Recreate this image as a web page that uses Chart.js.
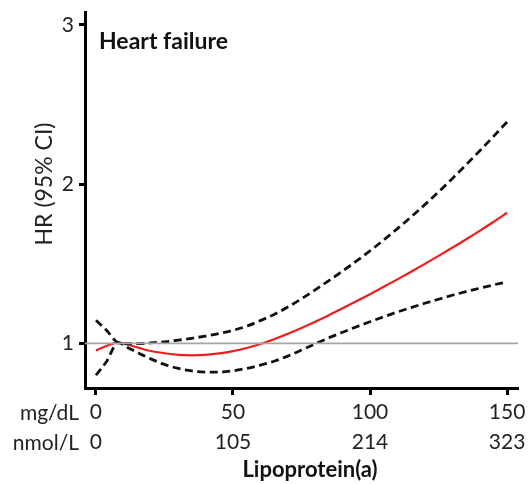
<!DOCTYPE html>
<html>
<head>
<meta charset="utf-8">
<script src="https://cdn.jsdelivr.net/npm/chart.js@4/dist/chart.umd.min.js"></script>
<style>
  html, body { margin: 0; padding: 0; background: #fff; }
  #wrap { width: 529px; height: 484px; }
</style>
</head>
<body>
<div id="wrap"><canvas id="hf-chart" width="529" height="484"></canvas></div>
<script>
// Lipoprotein(a) in mg/dL and the matching nmol/L tick labels
const mgdl = [0, 4, 8, 12, 16, 20, 25, 30, 35, 40, 45, 50, 55, 60, 65, 70, 75, 80, 85, 90, 95, 100, 105, 110, 115, 120, 125, 130, 135, 140, 145, 150];
const xTicks = [0, 50, 100, 150];
const nmolTicks = ['0', '105', '214', '323'];
const yTicks = [1, 2, 3];

// Hazard ratio spline with 95% CI bounds
const hr    = [0.956, 0.985, 1.005, 0.99, 0.97, 0.952, 0.938, 0.928, 0.925, 0.928, 0.937, 0.951, 0.971, 0.996, 1.026, 1.06, 1.097, 1.136, 1.177, 1.22, 1.264, 1.309, 1.355, 1.402, 1.45, 1.499, 1.549, 1.6, 1.652, 1.706, 1.762, 1.82];
const upper = [1.145, 1.08, 1.005, 0.998, 0.998, 1.003, 1.01, 1.02, 1.032, 1.046, 1.062, 1.082, 1.108, 1.143, 1.182, 1.228, 1.28, 1.336, 1.394, 1.454, 1.516, 1.581, 1.649, 1.72, 1.794, 1.871, 1.951, 2.034, 2.12, 2.208, 2.298, 2.39];
const lower = [0.8, 0.89, 1.005, 0.97, 0.935, 0.903, 0.868, 0.843, 0.827, 0.82, 0.82, 0.828, 0.843, 0.863, 0.888, 0.92, 0.958, 0.997, 1.035, 1.07, 1.104, 1.136, 1.167, 1.197, 1.225, 1.252, 1.277, 1.302, 1.325, 1.346, 1.367, 1.386];

// Reference line HR = 1 across the whole x range
const refX = [-4, 154];
const refY = [1, 1];

const X_MIN = -4, X_MAX = 154;
const Y_MIN = 0.72, Y_MAX = 3.08;

const FONT = 'Lato, "Open Sans", sans-serif';

function toPoints(xs, ys) {
    return xs.map((x, i) => ({ x: x, y: ys[i] }));
}

// Extra text: panel title, unit row labels and axis titles
const labelsPlugin = {
    id: 'hfLabels',
    afterDraw(chart) {
        const ctx = chart.ctx;
        ctx.save();
        ctx.fillStyle = '#111';
        ctx.font = 'bold 23px ' + FONT;
        ctx.textAlign = 'left';
        ctx.textBaseline = 'middle';
        ctx.fillText('Heart failure', 99, 42);

        ctx.fillStyle = '#222';
        ctx.font = '21px ' + FONT;
        ctx.textAlign = 'right';
        ctx.fillText('mg/dL', 79, 413);
        ctx.fillText('nmol/L', 79, 443);

        ctx.font = 'bold 22px ' + FONT;
        ctx.textAlign = 'center';
        ctx.fillStyle = '#111';
        ctx.fillText('Lipoprotein(a)', 310, 470);

        ctx.translate(45, 184);
        ctx.rotate(-Math.PI / 2);
        ctx.font = '23px ' + FONT;
        ctx.fillStyle = '#222';
        ctx.fillText('HR (95% CI)', 0, 0);
        ctx.restore();
    }
};

function initChart() {
    const ctx = document.getElementById('hf-chart').getContext('2d');

    new Chart(ctx, {
        type: 'line',
        data: {
            datasets: [
                {
                    label: 'Reference',
                    data: toPoints(refX, refY),
                    borderColor: '#a6a6a6',
                    borderWidth: 1.6,
                    pointRadius: 0
                },
                {
                    label: 'Upper 95% CI',
                    data: toPoints(mgdl, upper),
                    borderColor: '#111',
                    borderWidth: 2.8,
                    borderDash: [8, 4.5],
                    pointRadius: 0,
                    cubicInterpolationMode: 'monotone'
                },
                {
                    label: 'Lower 95% CI',
                    data: toPoints(mgdl, lower),
                    borderColor: '#111',
                    borderWidth: 2.8,
                    borderDash: [8, 4.5],
                    pointRadius: 0,
                    cubicInterpolationMode: 'monotone'
                },
                {
                    label: 'HR',
                    data: toPoints(mgdl, hr),
                    borderColor: '#f01c1c',
                    borderWidth: 2.2,
                    pointRadius: 0,
                    cubicInterpolationMode: 'monotone'
                }
            ]
        },
        options: {
            responsive: false,
            animation: false,
            layout: { padding: { top: 12, right: 11, left: 0, bottom: 0 } },
            plugins: {
                legend: { display: false },
                tooltip: { enabled: false }
            },
            scales: {
                x: {
                    type: 'linear',
                    min: X_MIN,
                    max: X_MAX,
                    afterBuildTicks(scale) {
                        scale.ticks = xTicks.map(v => ({ value: v }));
                    },
                    afterFit(scale) {
                        scale.height = 96;
                        scale.paddingLeft = 0;
                        scale.paddingRight = 0;
                    },
                    border: { display: true, color: '#000', width: 3 },
                    grid: {
                        drawOnChartArea: false,
                        drawTicks: true,
                        tickLength: 7,
                        tickWidth: 3,
                        tickColor: '#000'
                    },
                    ticks: {
                        color: '#222',
                        font: { family: FONT, size: 21, lineHeight: 1.43 },
                        padding: 2,
                        maxRotation: 0,
                        autoSkip: false,
                        callback(value) {
                            const i = xTicks.indexOf(value);
                            return [String(value), nmolTicks[i]];
                        }
                    }
                },
                y: {
                    type: 'linear',
                    min: Y_MIN,
                    max: Y_MAX,
                    afterBuildTicks(scale) {
                        scale.ticks = yTicks.map(v => ({ value: v }));
                    },
                    afterFit(scale) {
                        scale.width = 85;
                        scale.paddingTop = 0;
                        scale.paddingBottom = 0;
                    },
                    border: { display: true, color: '#000', width: 3 },
                    grid: {
                        drawOnChartArea: false,
                        drawTicks: true,
                        tickLength: 6,
                        tickWidth: 3,
                        tickColor: '#000'
                    },
                    ticks: {
                        color: '#222',
                        font: { family: FONT, size: 21 },
                        padding: 5,
                        callback(value) {
                            return String(value);
                        }
                    }
                }
            }
        },
        plugins: [labelsPlugin]
    });
}

document.addEventListener('DOMContentLoaded', initChart);
</script>
</body>
</html>
